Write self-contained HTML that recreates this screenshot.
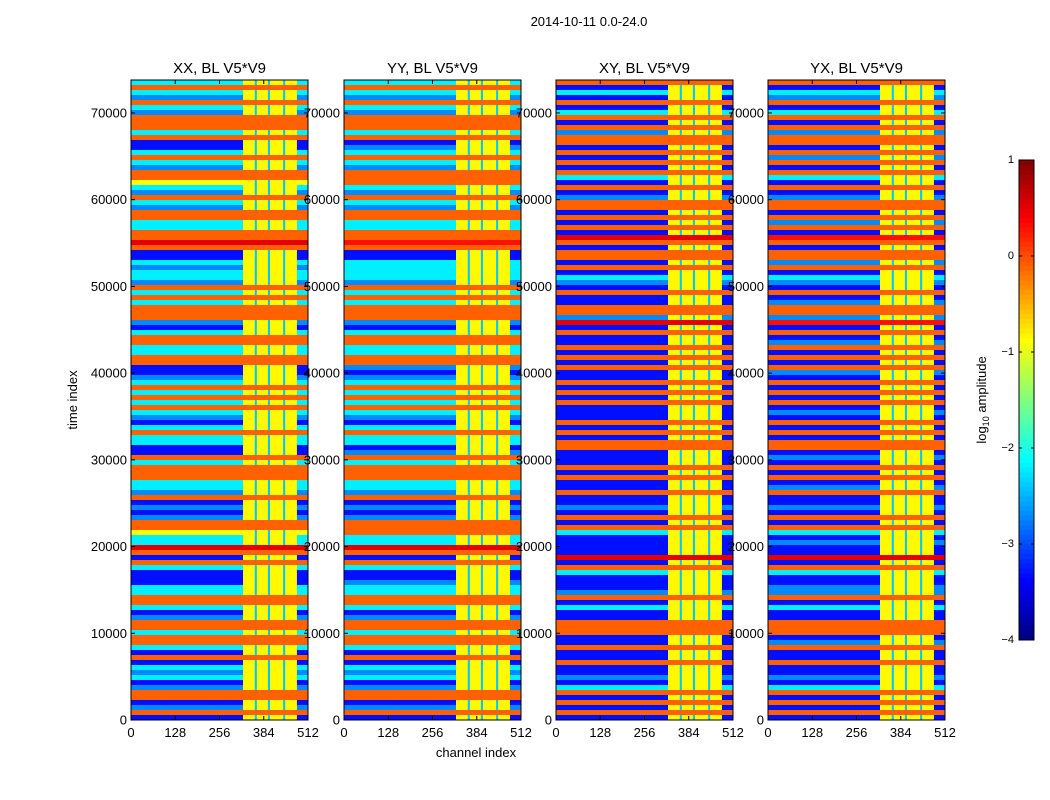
<!DOCTYPE html>
<html><head><meta charset="utf-8"><style>
body{margin:0;background:#fff;}
svg{display:block;font-family:"Liberation Sans",sans-serif;}
</style></head><body>
<svg id="fig" width="1050" height="800" viewBox="0 0 1050 800">
<rect width="1050" height="800" fill="#fff"/>
<text x="589" y="26" font-size="13" text-anchor="middle">2014-10-11 0.0-24.0</text>
<text x="476" y="757" font-size="13" text-anchor="middle">channel index</text>
<text transform="translate(77,400) rotate(-90)" font-size="13" text-anchor="middle">time index</text>
<text transform="translate(986,400) rotate(-90)" font-size="13" text-anchor="middle">log<tspan font-size="9" dy="3">10</tspan><tspan dy="-3"> amplitude</tspan></text>
<g id="panels"></g>
<g id="cbar"></g>
</svg>
<script>
const titles = ["XX, BL V5*V9","YY, BL V5*V9","XY, BL V5*V9","YX, BL V5*V9"];
const yTicks = [0,10000,20000,30000,40000,50000,60000,70000];
const xTicks = [0,128,256,384,512];
const cbarTicks = [1,0,-1,-2,-3,-4];
const timeMax = 73800;
const chanMax = 512;
const vMin = -4, vMax = 1;
const chanEdges = [0,324,358,364,396,402,440,446,480,512];
const segKind = [0,1,2,1,2,1,2,1,0];
const rfiLevel = -0.85;
const stripeLevel = -2.4;
// row values (log10 amplitude), listed from top (latest time) to bottom
const rowsXX = [-2.2,-0.1,-2.2,-2.7,-0.1,-2.2,-2.7,-0.1,-0.1,-0.1,
-2.2,-0.1,-3.3,-3.3,-2.2,-0.1,-2.2,-2.7,-0.1,-0.1,
-0.9,-2.2,-2.7,-0.1,-2.2,-2.7,-0.1,-0.1,-2.2,-2.2,
-0.1,-0.1,0.5,-0.1,-3.3,-3.3,-2.2,-2.7,-2.2,-2.2,
-2.7,-0.1,-2.2,-0.1,-2.2,-0.1,-0.1,-0.1,-2.7,-3.3,
-2.2,-0.1,-0.1,-2.2,-2.2,-0.1,-0.1,-3.3,-3.3,-2.7,
-2.2,-0.1,-2.2,-0.1,-2.2,-0.1,-2.2,-2.7,-3.3,-2.2,
-0.1,-2.2,-2.2,-3.3,-3.3,-0.1,-2.2,-0.1,-0.1,-0.1,
-2.2,-2.2,-2.7,-0.1,-3.3,-2.7,-3.3,-2.7,-0.1,-0.1,
-0.9,-2.2,-2.2,0.5,-0.1,-3.3,-0.1,-2.2,-3.3,-3.3,
-3.3,-2.2,-2.2,-0.1,-0.1,-2.2,-3.3,-2.7,-0.1,-0.1,
-2.2,-0.1,-0.1,-2.2,-3.3,-0.1,-3.3,-2.2,-2.7,-2.2,
-3.3,-2.7,-0.1,-0.1,-3.3,-2.7,-0.1,-3.3];
const rowsYY = [-2.2,-0.1,-2.2,-2.7,-0.1,-2.2,-2.7,-0.1,-0.1,-0.1,
-2.2,-0.1,-3.3,-2.7,-2.2,-0.1,-2.2,-2.7,-0.1,-0.1,
-0.1,-2.2,-2.7,-0.1,-2.2,-2.7,-0.1,-0.1,-2.2,-2.2,
-0.1,-0.1,0.3,-0.1,-3.3,-3.3,-2.2,-2.2,-2.2,-2.2,
-2.7,-0.1,-2.2,-0.1,-2.2,-0.1,-0.1,-0.1,-2.7,-3.3,
-2.2,-0.1,-0.1,-2.2,-2.2,-0.1,-0.1,-2.7,-3.3,-2.7,
-2.2,-0.1,-2.2,-0.1,-2.2,-0.1,-2.2,-2.7,-3.3,-2.2,
-0.1,-2.2,-2.2,-3.3,-2.7,-0.1,-2.2,-0.1,-0.1,-0.1,
-2.2,-2.2,-2.7,-0.1,-3.3,-2.7,-3.3,-2.7,-0.1,-0.1,
-0.1,-2.2,-2.2,0.5,-0.1,-3.3,-0.1,-2.2,-3.3,-3.3,
-2.7,-2.2,-2.2,-0.1,-0.1,-2.2,-3.3,-2.7,-0.1,-0.1,
-2.2,-0.1,-0.1,-2.2,-3.3,-0.1,-3.3,-2.2,-2.7,-2.2,
-3.3,-2.7,-0.1,-0.1,-3.3,-2.7,-0.1,-3.3];
const rowsXY = [-0.1,-3.3,-2.2,-3.3,-0.1,-3.3,-2.2,-0.1,-3.3,-0.1,
-2.7,-0.1,-0.1,-3.3,-0.1,-3.3,-0.1,-3.3,-0.1,-2.2,
-3.3,-0.1,-3.3,-2.7,-0.1,-0.1,-3.3,-0.1,-3.3,-0.1,
-3.3,0.5,-0.1,-3.3,-0.1,-0.1,-3.3,-0.1,-3.3,-2.2,
-2.7,-3.3,-0.1,-3.3,-3.3,-0.1,-0.1,-2.7,0.5,-3.3,
-0.1,-3.3,-3.3,-0.1,-3.3,-0.1,-3.3,-0.1,-3.3,-3.3,
-0.1,-3.3,-0.1,-3.3,-0.1,-3.3,-3.3,-3.3,-0.1,-3.3,
-0.1,-3.3,-0.1,-0.1,-3.3,-3.3,-3.3,-0.1,-3.3,-0.1,
-3.3,-3.3,-0.1,-3.3,-3.3,-2.7,-3.3,-0.1,-3.3,-0.1,
-2.2,-3.3,-3.3,-3.3,-3.3,0.5,-3.3,-0.1,-2.2,-3.3,
-3.3,-3.3,-2.7,-0.1,-3.3,-2.2,-3.3,-3.3,-0.1,-0.1,
-0.1,-3.3,-3.3,-0.1,-3.3,-3.3,-0.1,-3.3,-3.3,-2.7,
-3.3,-2.2,-0.1,-3.3,-0.1,-3.3,-0.1,-3.3];
const rowsYX = [-0.1,-3.3,-2.2,-2.7,-0.1,-3.3,-2.2,-0.1,-3.3,-0.1,
-2.7,-0.1,-0.1,-3.3,-0.1,-2.7,-0.1,-3.3,-0.1,-2.2,
-3.3,-0.1,-3.3,-2.7,-0.1,-0.1,-3.3,-0.1,-2.7,-0.1,
-3.3,0.3,-0.1,-3.3,-0.1,-0.1,-2.7,-0.1,-3.3,-2.2,
-2.7,-3.3,-0.1,-3.3,-2.7,-0.1,-0.1,-2.7,0.3,-3.3,
-0.1,-3.3,-2.7,-0.1,-3.3,-0.1,-3.3,-0.1,-2.7,-3.3,
-0.1,-3.3,-0.1,-3.3,-0.1,-3.3,-2.7,-3.3,-0.1,-3.3,
-0.1,-3.3,-0.1,-0.1,-3.3,-2.7,-3.3,-0.1,-3.3,-0.1,
-3.3,-2.7,-0.1,-3.3,-3.3,-2.7,-3.3,-0.1,-3.3,-0.1,
-2.2,-3.3,-2.7,-3.3,-3.3,0.5,-3.3,-0.1,-2.2,-3.3,
-3.3,-2.7,-2.7,-0.1,-3.3,-2.2,-3.3,-3.3,-0.1,-0.1,
-0.1,-3.3,-2.7,-0.1,-3.3,-3.3,-0.1,-3.3,-3.3,-2.7,
-3.3,-2.2,-0.1,-3.3,-0.1,-3.3,-0.1,-3.3];
const panelRows = [rowsXX, rowsYY, rowsXY, rowsYX];
const panelX = [131,344,556,768];
const panelW = 177, panelTop = 80, panelBot = 720;

const NS = "http://www.w3.org/2000/svg";
function mk(tag, attrs, parent){const e=document.createElementNS(NS,tag);for(const k in attrs)e.setAttribute(k,attrs[k]);parent.appendChild(e);return e;}
function clamp(v){return Math.max(0,Math.min(1,v));}
function jet(v){
  const t=(v-vMin)/(vMax-vMin);
  const r=clamp(1.5-Math.abs(4*t-3)), g=clamp(1.5-Math.abs(4*t-2)), b=clamp(1.5-Math.abs(4*t-1));
  return "rgb("+Math.round(r*255)+","+Math.round(g*255)+","+Math.round(b*255)+")";
}
function fmtMinus(n){return n<0?"\u2212"+Math.abs(n):String(n);}

const gp = document.getElementById("panels");
panelRows.forEach((rows, p) => {
  const x0 = panelX[p];
  const xs = ch => x0 + ch/chanMax*panelW;
  const ys = t => panelBot - t/timeMax*(panelBot-panelTop);
  const g = mk("g",{},gp);
  
  
  const n = rows.length, bin = timeMax/n;
  rows.forEach((rv,i) => {
    const tTop = timeMax - i*bin, tBot = timeMax - (i+1)*bin;
    for (let s=0; s<segKind.length; s++){
      const k = segKind[s];
      let v = rv;
      if (k===1 && rv < -0.6) v = rfiLevel;
      if (k===2 && rv < -0.6) v = stripeLevel;
      const r = mk("rect",{x:xs(chanEdges[s]),y:ys(tTop),width:xs(chanEdges[s+1])-xs(chanEdges[s])+0.4,height:ys(tBot)-ys(tTop)+0.4,fill:jet(v)},g);
      
      
    }
  });
  const fr = mk("rect",{x:x0,y:panelTop,width:panelW,height:panelBot-panelTop,fill:"none",stroke:"#000","stroke-width":1},gp);
  
  
  const tt = mk("text",{x:x0+panelW/2,y:73,"font-size":15,"text-anchor":"middle"},gp);
  tt.textContent = titles[p];
  
  
  yTicks.forEach(t => {
    const y = ys(t);
    mk("line",{x1:x0,x2:x0+4,y1:y,y2:y,stroke:"#000"},gp);
    mk("line",{x1:x0+panelW-4,x2:x0+panelW,y1:y,y2:y,stroke:"#000"},gp);
    const lb = mk("text",{x:x0-4,y:y+4.5,"font-size":13,"text-anchor":"end"},gp);
    lb.textContent = t;
    
    
  });
  xTicks.forEach(c => {
    const x = xs(c);
    mk("line",{x1:x,x2:x,y1:panelBot,y2:panelBot-4,stroke:"#000"},gp);
    mk("line",{x1:x,x2:x,y1:panelTop,y2:panelTop+4,stroke:"#000"},gp);
    const lb = mk("text",{x:x,y:737,"font-size":13,"text-anchor":"middle"},gp);
    lb.textContent = c;
    
    
  });
});

// colorbar
const gc = document.getElementById("cbar");
const cbX = 1019, cbW = 15, cbTop = 160, cbBot = 640;
const cy = v => cbBot - (v-vMin)/(vMax-vMin)*(cbBot-cbTop);
const steps = 100;
for (let i=0;i<steps;i++){
  const v0 = vMin + (vMax-vMin)*i/steps, v1 = vMin + (vMax-vMin)*(i+1)/steps;
  const r = mk("rect",{x:cbX,y:cy(v1),width:cbW,height:cy(v0)-cy(v1)+0.5,fill:jet((v0+v1)/2),"shape-rendering":"crispEdges"},gc);
  
  
}
const cf = mk("rect",{x:cbX,y:cbTop,width:cbW,height:cbBot-cbTop,fill:"none",stroke:"#000"},gc);


cbarTicks.forEach(v => {
  const y = cy(v);
  mk("line",{x1:cbX,x2:cbX+3,y1:y,y2:y,stroke:"#000"},gc);
  mk("line",{x1:cbX+cbW-3,x2:cbX+cbW,y1:y,y2:y,stroke:"#000"},gc);
  const lb = mk("text",{x:cbX-5,y:y+3,"font-size":11,"text-anchor":"end"},gc);
  lb.textContent = fmtMinus(v);
  
  
});
</script>
</body></html>
